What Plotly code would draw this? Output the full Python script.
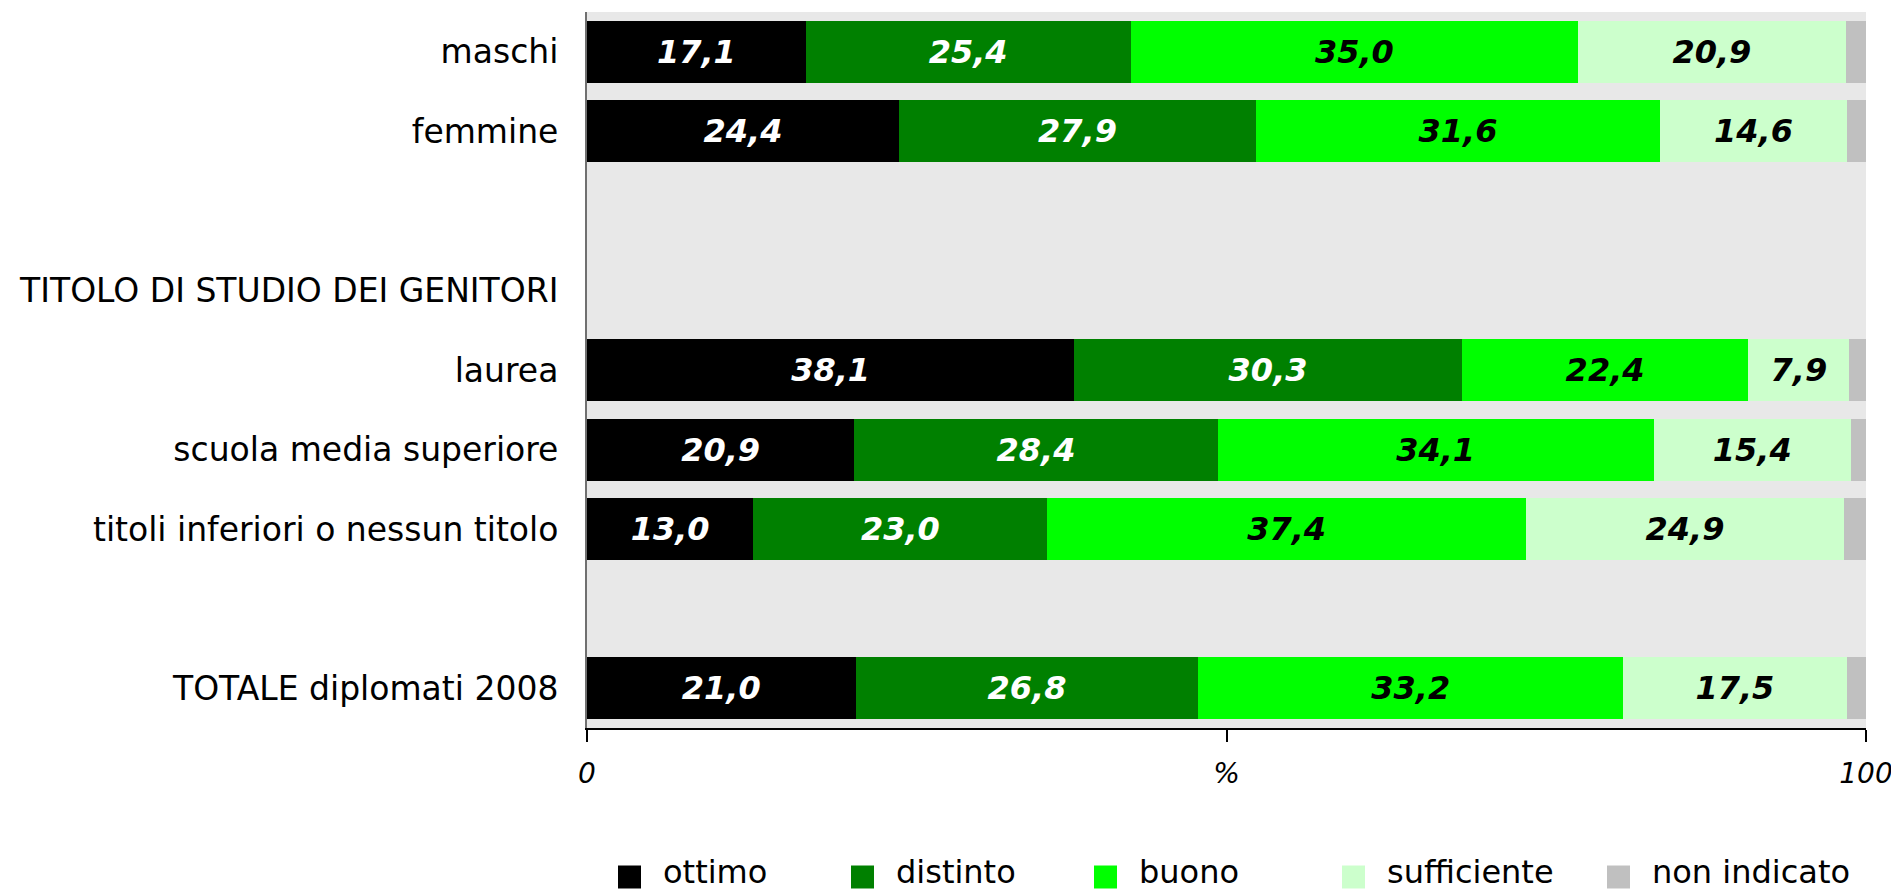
import plotly.graph_objects as go

categories = ["maschi", "femmine", " ", "TITOLO DI STUDIO DEI GENITORI", "laurea",
              "scuola media superiore", "titoli inferiori o nessun titolo", "  ",
              "TOTALE diplomati 2008"]

ottimo = [17.1, 24.4, None, None, 38.1, 20.9, 13.0, None, 21.0]
distinto = [25.4, 27.9, None, None, 30.3, 28.4, 23.0, None, 26.8]
buono = [35.0, 31.6, None, None, 22.4, 34.1, 37.4, None, 33.2]
sufficiente = [20.9, 14.6, None, None, 7.9, 15.4, 24.9, None, 17.5]
non_indicato = [1.6, 1.5, None, None, 1.3, 1.2, 1.7, None, 1.5]

series_names = ["ottimo", "distinto", "buono", "sufficiente", "non indicato"]
series_values = [ottimo, distinto, buono, sufficiente, non_indicato]
series_colors = ["#000000", "#008000", "#00FF00", "#CCFFCC", "#C0C0C0"]
label_colors = ["#FFFFFF", "#FFFFFF", "#000000", "#000000", "#000000"]
show_labels = [True, True, True, True, False]

x_tickvals = [0, 50, 100]
x_ticktext = ["0", "%", "100"]

# layout geometry (figure pixels)
W, H = 1899, 889
ML, MR, MT, MB = 579, 41, 4, 169
PW, PH = W - ML - MR, H - MT - MB
legend_left_px = [610, 843, 1086, 1334, 1599]   # left edge of each legend square
legend_mid_px = 869                              # vertical centre of legend squares
legend_text_shift = 5
legend_sq = 23
legend_text_gap = 43


def fmt(v):
    return "" if v is None else f"{v:.1f}".replace(".", ",")


fig = go.Figure()
for name, vals, col, lcol, show in zip(series_names, series_values, series_colors,
                                       label_colors, show_labels):
    fig.add_trace(go.Bar(
        name=name, y=categories, x=vals, orientation="h",
        marker=dict(color=col, line=dict(width=0)),
        text=[fmt(v) for v in vals] if show else None,
        textposition="inside" if show else "none",
        insidetextanchor="middle",
        textangle=0,
        insidetextfont=dict(family="DejaVu Sans", size=32, color=lcol,
                            weight="bold", style="italic"),
        showlegend=False,
        hoverinfo="skip",
    ))

# custom legend (squares + labels)
shapes, annotations = [], []
ymid = (H - MB - legend_mid_px) / PH
for name, col, lx in zip(series_names, series_colors, legend_left_px):
    xa = (lx - ML) / PW
    shapes.append(dict(
        type="rect", xref="paper", yref="paper",
        xsizemode="pixel", ysizemode="pixel",
        xanchor=xa, yanchor=ymid,
        x0=0, x1=legend_sq, y0=-legend_sq / 2, y1=legend_sq / 2,
        fillcolor=col, line=dict(width=0),
    ))
    annotations.append(dict(
        xref="paper", yref="paper",
        x=(lx + legend_text_gap - ML) / PW, y=ymid,
        xanchor="left", yanchor="middle",
        text=name, showarrow=False,
        font=dict(family="DejaVu Sans", size=32, color="#000000"),
        yshift=legend_text_shift,
    ))

fig.update_layout(
    width=W, height=H,
    barmode="stack",
    bargap=0.22,
    paper_bgcolor="#FFFFFF",
    plot_bgcolor="#E8E8E8",
    margin=dict(l=ML, r=MR, t=MT, b=MB, autoexpand=False),
    font=dict(family="DejaVu Sans", color="#000000"),
    showlegend=False,
    shapes=shapes,
    annotations=annotations,
)

fig.update_xaxes(
    range=[0, 100],
    tickvals=x_tickvals, ticktext=x_ticktext,
    ticks="outside", ticklen=12, tickwidth=1.5, tickcolor="#000000",
    showline=True, linecolor="#000000", linewidth=2,
    showgrid=False, zeroline=False,
    tickfont=dict(family="DejaVu Sans", size=28, style="italic", color="#000000"),
    ticklabelstandoff=7,
)
fig.update_yaxes(
    type="category",
    categoryorder="array", categoryarray=categories,
    autorange="reversed",
    showline=True, linecolor="#707070", linewidth=2,
    showgrid=False, zeroline=False,
    ticks="",
    tickfont=dict(family="DejaVu Sans", size=33, color="#000000"),
    ticklabelstandoff=20,
)

fig.write_html("out.html")
